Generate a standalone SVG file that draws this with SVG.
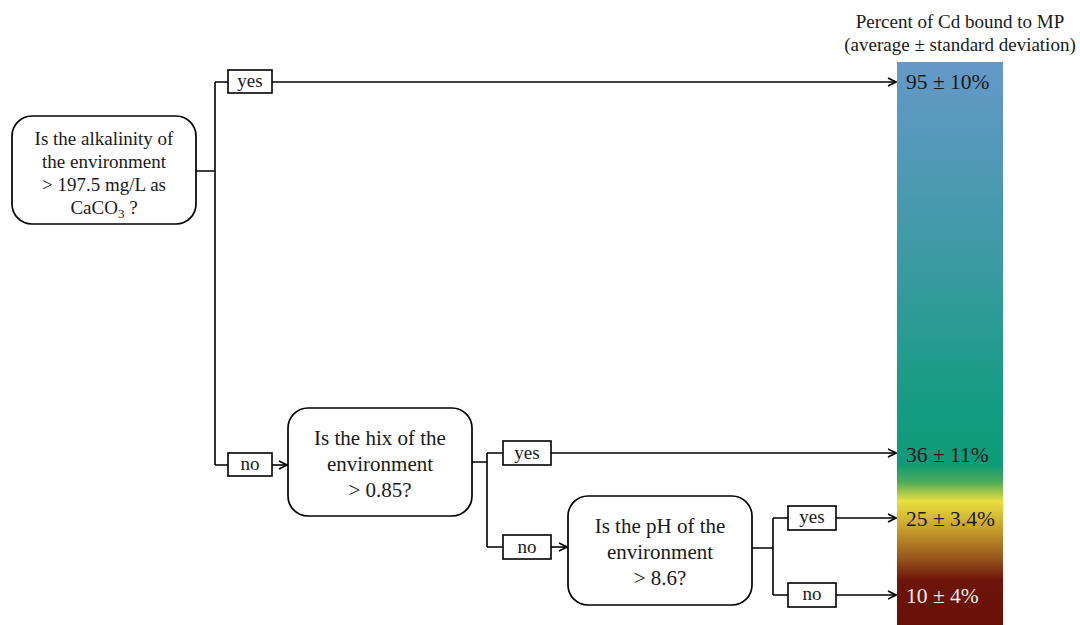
<svg xmlns="http://www.w3.org/2000/svg" width="1080" height="625" viewBox="0 0 1080 625">
<defs>
<linearGradient id="bar" x1="0" y1="0" x2="0" y2="1">
<stop offset="0" stop-color="#6598c9"/>
<stop offset="0.35" stop-color="#3c9aa3"/>
<stop offset="0.62" stop-color="#129c80"/>
<stop offset="0.715" stop-color="#0e9b76"/>
<stop offset="0.745" stop-color="#4aaa5a"/>
<stop offset="0.78" stop-color="#e8df3e"/>
<stop offset="0.835" stop-color="#c3972a"/>
<stop offset="0.885" stop-color="#93501a"/>
<stop offset="0.92" stop-color="#6e150a"/>
<stop offset="1" stop-color="#681006"/>
</linearGradient>
<marker id="arr" viewBox="0 0 10 10" refX="9" refY="5" markerWidth="10" markerHeight="10" markerUnits="userSpaceOnUse" orient="auto">
<path d="M1,1 L9,5 L1,9" fill="none" stroke="#000" stroke-width="1.6"/>
</marker>
</defs>
<style>
text{font-family:"Liberation Serif","Times New Roman",serif;fill:#1a1a1a;text-anchor:middle}
.q1{font-size:19px}
.q{font-size:21px}
.lab{font-size:19px}
.hd{font-size:19px}
.val{font-size:21.5px;text-anchor:start}
.node{fill:#fff;stroke:#000;stroke-width:1.7}
.lbox{fill:#fff;stroke:#000;stroke-width:1.6}
.c{fill:none;stroke:#000;stroke-width:1.6}
</style>
<rect width="1080" height="625" fill="#fff"/>
<g id="legend">
<rect x="897" y="62" width="106" height="563" fill="url(#bar)"/>
<text class="hd" x="960" y="28">Percent of Cd bound to MP</text>
<text class="hd" x="960" y="51">(average ± standard deviation)</text>
<text class="val" x="906" y="89">95 ± 10%</text>
<text class="val" x="906" y="462">36 ± 11%</text>
<text class="val" x="906" y="526">25 ± 3.4%</text>
<text class="val" x="906" y="603" style="fill:#f0ecea">10 ± 4%</text>
</g>
<g id="connectors">
<path class="c" d="M196,171 H215 M215,82 V465 M215,82 H228 M215,465 H228"/>
<path class="c" d="M272,82 H896" marker-end="url(#arr)"/>
<path class="c" d="M272,465 H287" marker-end="url(#arr)"/>
<path class="c" d="M472,462 H487 M487,453 V547 M487,453 H503 M487,547 H503"/>
<path class="c" d="M551,453 H896" marker-end="url(#arr)"/>
<path class="c" d="M551,547 H567" marker-end="url(#arr)"/>
<path class="c" d="M752,548 H773 M773,518 V595 M773,518 H788 M773,595 H788"/>
<path class="c" d="M836,518 H896" marker-end="url(#arr)"/>
<path class="c" d="M836,595 H896" marker-end="url(#arr)"/>
</g>
<g id="q1">
<rect class="node" x="12" y="116" width="184" height="108" rx="20"/>
<text class="q1" x="104" y="145">Is the alkalinity of</text>
<text class="q1" x="104" y="168">the environment</text>
<text class="q1" x="104" y="191">&gt; 197.5 mg/L as</text>
<text class="q1" x="104" y="214">CaCO<tspan font-size="13" dy="4">3</tspan><tspan dy="-4"> ?</tspan></text>
</g>
<g id="yes1"><rect class="lbox" x="228" y="70" width="44" height="23"/><text class="lab" x="250" y="87">yes</text></g>
<g id="no1"><rect class="lbox" x="228" y="453" width="44" height="23"/><text class="lab" x="250" y="470">no</text></g>
<g id="q2">
<rect class="node" x="288" y="408" width="184" height="108" rx="20"/>
<text class="q" x="380" y="445">Is the hix of the</text>
<text class="q" x="380" y="471">environment</text>
<text class="q" x="380" y="497">&gt; 0.85?</text>
</g>
<g id="yes2"><rect class="lbox" x="503" y="441" width="48" height="24"/><text class="lab" x="527" y="459">yes</text></g>
<g id="no2"><rect class="lbox" x="503" y="535" width="48" height="24"/><text class="lab" x="527" y="553">no</text></g>
<g id="q3">
<rect class="node" x="568" y="496" width="184" height="109" rx="20"/>
<text class="q" x="660" y="533">Is the pH of the</text>
<text class="q" x="660" y="559">environment</text>
<text class="q" x="660" y="585">&gt; 8.6?</text>
</g>
<g id="yes3"><rect class="lbox" x="788" y="506" width="48" height="24"/><text class="lab" x="812" y="523">yes</text></g>
<g id="no3"><rect class="lbox" x="788" y="583" width="48" height="24"/><text class="lab" x="812" y="600">no</text></g>
</svg>
